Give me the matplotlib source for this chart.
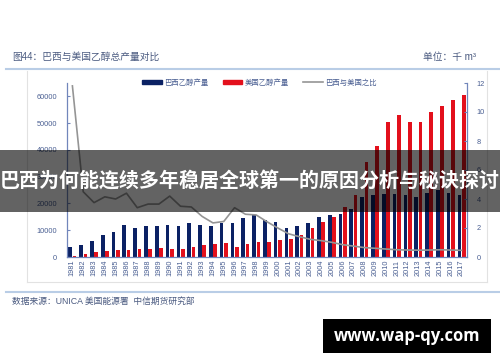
import matplotlib
matplotlib.use("Agg")
import matplotlib.pyplot as plt
from matplotlib.lines import Line2D
from matplotlib.patches import Rectangle, Patch
import numpy as np

plt.rcParams['font.family'] = ['Liberation Sans', 'Noto Sans CJK SC', 'DejaVu Sans']

# data (thousand m3)
years = [str(y) for y in range(1981, 2018)]
brazil = [3840, 4480, 5970, 8100, 9330, 11940, 10700, 11570, 11690, 12060,
          11570, 12800, 11820, 11440, 12690, 12690, 14430, 15800, 13690, 12940,
          10820, 11690, 12800, 14800, 15550, 15920, 17900, 22500, 23100, 23500,
          23400, 23100, 22500, 24000, 25000, 23800, 23100]
usa = [330, 1000, 1750, 2120, 2500, 2740, 3100, 3100, 3230, 2900,
       3100, 3840, 4350, 4980, 5220, 3730, 4980, 5470, 5720, 6340,
       6720, 8330, 10700, 12940, 14930, 18770, 23130, 35560, 41540, 50500,
       52990, 50250, 50500, 54230, 56340, 58580, 60450]
ratio = [11.8, 4.5, 3.75, 4.15, 4.0, 4.4, 3.4, 3.65, 3.65, 4.2,
         3.5, 3.45, 2.8, 2.35, 2.45, 3.4, 2.95, 2.9, 2.43, 2.0,
         1.6, 1.4, 1.22, 1.13, 1.01, 0.85, 0.75, 0.65, 0.6, 0.55,
         0.5, 0.48, 0.47, 0.48, 0.5, 0.48, 0.46]

navy = "#0b2164"
red = "#e3101c"
gray = "#959595"
tick_col = "#4a5f92"
axis_col = "#7186bb"
head_col = "#b9cde6"

W, H = 500, 362
fig = plt.figure(figsize=(5, 3.62), dpi=100)

def fx(px):
    return px / W

def fy(py):
    return 1 - py / H

# frame lines and header/footer rules
fig.add_artist(Line2D([fx(6), 1], [fy(69), fy(69)], color=head_col, lw=1.5))
fig.add_artist(Line2D([fx(6), 1], [fy(292), fy(292)], color=head_col, lw=1.5))
fig.add_artist(Line2D([fx(27), fx(27)], [fy(71), fy(282)], color="#e2e2e2", lw=0.8))
fig.add_artist(Line2D([fx(487), fx(487)], [fy(71), fy(282)], color="#e2e2e2", lw=0.8))
fig.add_artist(Line2D([fx(27), fx(487)], [fy(282), fy(282)], color="#e2e2e2", lw=0.8))

fig.text(fx(12), fy(57), "图44：巴西与美国乙醇总产量对比", fontsize=7, color="#4a5a80", va="center")
fig.text(fx(476), fy(57), "单位：千 m³", fontsize=7, color="#4a5a80", va="center", ha="right")
fig.text(fx(12), fy(301), "数据来源：UNICA 美国能源署  中信期货研究部", fontsize=6.3, color="#4a5a80", va="center")

ax = fig.add_axes([fx(67), fy(257), fx(467) - fx(67), fy(83) - fy(257)])
x = np.arange(len(years))
bw = 0.34
ax.bar(x - 0.2, brazil, width=bw, color=navy, label="巴西乙醇产量")
ax.bar(x + 0.2, usa, width=bw, color=red, label="美国乙醇产量")
ax.set_xlim(-0.5, len(years) - 0.5)
ax.set_ylim(0, 65000)
ax.set_yticks(range(0, 60001, 10000))
ax.set_xticks(x)
ax.set_xticklabels(years, rotation=90)

ax2 = ax.twinx()
ax2.plot(x, ratio, color=gray, lw=1.2, label="巴西与美国之比")
ax2.set_ylim(0, 12)
ax2.set_yticks(range(0, 13, 2))

for a in (ax, ax2):
    a.spines["top"].set_visible(False)
    for s in ("left", "right", "bottom"):
        a.spines[s].set_color(axis_col)
        a.spines[s].set_linewidth(0.9)
    a.tick_params(colors=axis_col, labelcolor=tick_col, labelsize=5.3, direction="in", length=2.5, width=0.8)
ax.tick_params(axis="y", pad=7)
ax.tick_params(axis="x", length=0, pad=2)
ax2.tick_params(axis="y", pad=7)
ax.spines["right"].set_visible(False)
ax2.spines["left"].set_visible(False)
ax2.spines["bottom"].set_visible(False)

handles = [Patch(color=navy), Patch(color=red), Line2D([0], [0], color=gray, lw=1.2)]
labels = ["巴西乙醇产量", "美国乙醇产量", "巴西与美国之比"]
leg = ax2.legend(handles, labels, loc="center", bbox_to_anchor=(0.481, 1.0), ncol=3,
                 frameon=False, fontsize=5.3, handlelength=2.7, handleheight=0.5,
                 handletextpad=0.3, columnspacing=1.9)
for t in leg.get_texts():
    t.set_color(tick_col)

# overlay banner
fig.add_artist(Rectangle((0, fy(212)), 1, fy(150) - fy(212), transform=fig.transFigure,
                         facecolor="black", alpha=0.61, edgecolor="none", zorder=10))
fig.text(0.5, fy(181), "巴西为何能连续多年稳居全球第一的原因分析与秘诀探讨", fontsize=14.4,
         color="white", fontweight="bold", ha="center", va="center",
         family=["Noto Sans CJK SC"], zorder=11)

# watermark
fig.add_artist(Rectangle((fx(323), fy(353)), fx(491) - fx(323), fy(319) - fy(353),
                         transform=fig.transFigure, facecolor="black", edgecolor="none", zorder=10))
fig.text(fx(407), fy(336), "www.wap-qy.com", fontsize=12, color="white", fontweight="bold",
         ha="center", va="center", family=["Open Sans", "DejaVu Sans"], zorder=11)

fig.savefig("out.png", dpi=100)
